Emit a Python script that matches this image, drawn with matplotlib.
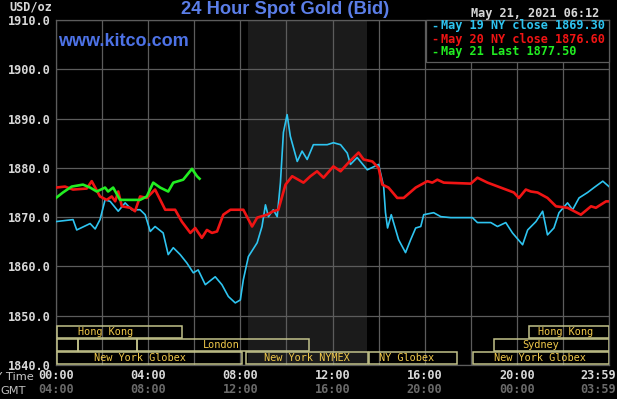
import matplotlib
matplotlib.use("Agg")
import matplotlib.pyplot as plt
from matplotlib.patches import Rectangle

# ---------------- data ----------------
may19_hours = [0.0, 0.74, 0.90, 1.48, 1.70, 1.91, 2.13, 2.35, 2.70, 3.00, 3.29, 3.65, 3.87, 4.09,
               4.30, 4.65, 4.87, 5.09, 5.39, 5.68, 5.96, 6.17, 6.48, 6.91, 7.20, 7.48, 7.78, 8.00,
               8.13, 8.35, 8.73, 8.94, 9.09, 9.22, 9.43, 9.60, 9.74, 9.87, 10.03, 10.17, 10.47,
               10.68, 10.90, 11.17, 11.77, 12.04, 12.35, 12.64, 12.78, 13.07, 13.51, 14.00, 14.22,
               14.30, 14.39, 14.55, 14.87, 15.17, 15.39, 15.61, 15.83, 15.96, 16.39, 16.70, 17.13,
               18.07, 18.29, 18.87, 19.16, 19.52, 19.81, 20.25, 20.47, 20.83, 21.12, 21.33, 21.61,
               21.83, 22.20, 22.42, 22.70, 23.07, 23.35, 23.73, 24.0]
may19_values = [1869.1, 1869.5, 1867.4, 1868.7, 1867.6, 1869.5, 1873.5, 1873.2, 1871.2, 1872.9,
                1871.5, 1871.5, 1870.5, 1867.1, 1868.1, 1866.8, 1862.4, 1863.8, 1862.4, 1860.7,
                1858.7, 1859.3, 1856.3, 1857.9, 1856.3, 1853.9, 1852.6, 1853.2, 1857.3, 1862.0,
                1864.8, 1868.1, 1872.5, 1870.1, 1871.5, 1870.1, 1877.0, 1887.2, 1890.8, 1886.4,
                1881.3, 1883.4, 1881.7, 1884.7, 1884.7, 1885.1, 1884.7, 1883.0, 1880.7, 1882.1,
                1879.6, 1880.7, 1876.2, 1870.9, 1867.8, 1870.5, 1865.4, 1862.8, 1865.4, 1867.8,
                1868.1, 1870.5, 1870.9, 1870.1, 1869.9, 1869.9, 1868.9, 1868.9, 1868.1, 1868.9,
                1866.8, 1864.4, 1867.4, 1869.1, 1871.2, 1866.4, 1867.8, 1870.9, 1872.9, 1871.5,
                1873.9, 1875.0, 1876.0, 1877.3, 1876.2]

may20_hours = [0.0, 0.39, 0.74, 1.33, 1.55, 1.91, 2.20, 2.42, 2.57, 2.70, 2.86, 3.22, 3.43, 3.65,
               3.94, 4.30, 4.74, 5.17, 5.46, 5.83, 6.04, 6.33, 6.55, 6.77, 6.99, 7.26, 7.57, 8.13,
               8.51, 8.73, 9.16, 9.43, 9.65, 9.96, 10.25, 10.74, 11.04, 11.33, 11.61, 12.04, 12.35,
               12.70, 13.13, 13.35, 13.73, 14.00, 14.16, 14.43, 14.81, 15.09, 15.61, 16.12, 16.33,
               16.55, 16.83, 18.00, 18.29, 18.73, 19.30, 19.87, 20.09, 20.39, 20.61, 20.90, 21.33,
               21.70, 22.20, 22.78, 23.22, 23.43, 23.87, 24.0]
may20_values = [1876.0, 1876.2, 1875.6, 1875.8, 1877.3, 1874.2, 1873.5, 1874.2, 1873.2, 1875.2,
                1872.2, 1871.9, 1871.2, 1874.2, 1873.9, 1875.6, 1871.5, 1871.5, 1869.1, 1866.8,
                1867.8, 1865.8, 1867.4, 1866.8, 1867.1, 1870.5, 1871.5, 1871.5, 1868.1, 1869.9,
                1870.5, 1871.2, 1871.5, 1876.6, 1878.3, 1877.0, 1878.3, 1879.3, 1878.0, 1880.3,
                1879.3, 1881.1, 1883.1, 1881.7, 1881.3, 1880.0, 1876.6, 1876.0, 1873.9, 1873.9,
                1876.0, 1877.3, 1877.0, 1877.6, 1877.0, 1876.8, 1878.0, 1877.0, 1876.0, 1875.0,
                1873.9, 1875.6, 1875.2, 1875.0, 1873.9, 1872.2, 1871.9, 1870.5, 1872.2, 1871.9,
                1873.2, 1873.2]

may21_hours = [0.0, 0.30, 0.68, 1.17, 1.48, 1.77, 2.13, 2.26, 2.48, 2.78, 3.22, 3.65, 3.94, 4.22,
               4.52, 4.87, 5.09, 5.52, 5.90, 6.12, 6.23]
may21_values = [1873.9, 1875.0, 1876.2, 1876.6, 1876.0, 1875.2, 1876.0, 1875.2, 1876.0, 1873.5,
                1873.5, 1873.5, 1874.2, 1877.0, 1876.0, 1875.2, 1877.0, 1877.6, 1879.8, 1878.3,
                1877.8]

legend_labels = ["May 19 NY close 1869.30", "May 20 NY close 1876.60", "May 21 Last 1877.50"]
y_ticks = [1840, 1850, 1860, 1870, 1880, 1890, 1900, 1910]
x_tick_hours = [0, 4, 8, 12, 16, 20, 24]
ny_time_labels = ["00:00", "04:00", "08:00", "12:00", "16:00", "20:00", "23:59"]
gmt_labels = ["04:00", "08:00", "12:00", "16:00", "20:00", "00:00", "03:59"]
comex_span = (8.33, 13.5)

# sessions: (row, start, end, label, label_x)
sessions = [
    (0, 0.04, 5.48, "Hong Kong", 2.13),
    (0, 20.52, 24.0, "Hong Kong", 22.1),
    (1, 0.04, 0.96, "", 0),
    (1, 0.96, 3.52, "", 0),
    (1, 3.52, 10.96, "London", 7.17),
    (1, 19.0, 24.0, "Sydney", 21.04),
    (2, 0.04, 8.09, "New York Globex", 3.65),
    (2, 8.26, 13.52, "New York NYMEX", 10.9),
    (2, 13.57, 17.39, "NY Globex", 15.2),
    (2, 18.09, 24.0, "New York Globex", 21.0),
]
row_bounds = {0: (1845.5, 1848.0), 1: (1842.85, 1845.35), 2: (1840.2, 1842.7)}

# ---------------- style ----------------
W, H = 617, 399
BG = "#000000"
GRID = "#5c5c5c"
BLUE = "#2ec4f0"
RED = "#f01414"
GREEN = "#22ee22"
TICK = "#d8d8d8"
DIM = "#6a6a6a"
BOX = "#c2c28a"
SESS_TXT = "#f0c84a"
MONO = "DejaVu Sans Mono"

def fx(px):
    return px / W

def fy(py):
    return 1 - py / H

fig = plt.figure(figsize=(W / 100, H / 100), dpi=100, facecolor=BG)
L, R, T, B = 56, 609, 20, 365
ax = fig.add_axes([fx(L), fy(B), (R - L) / W, (B - T) / H])
ax.set_facecolor(BG)
ax.set_xlim(0, 24)
ax.set_ylim(1840, 1910)

ax.axvspan(*comex_span, color="#1b1b1b", zorder=0, lw=0)
for h in range(0, 25, 2):
    ax.axvline(h, color=GRID, lw=0.9, zorder=1)
for v in y_ticks:
    ax.axhline(v, color=GRID, lw=0.9, zorder=1)
for s in ax.spines.values():
    s.set_color(GRID)
    s.set_linewidth(0.9)
ax.set_xticks([])
ax.set_yticks(y_ticks)
ax.set_yticklabels([f"{v:.1f}" for v in y_ticks], fontfamily=MONO, fontweight="bold",
                   fontsize=8.6, color=TICK)
ax.tick_params(axis="y", length=0, pad=4)

ax.plot(may19_hours, may19_values, color=BLUE, lw=1.2, zorder=3)
ax.plot(may20_hours, may20_values, color=RED, lw=1.9, zorder=4)
ax.plot(may21_hours, may21_values, color=GREEN, lw=1.9, zorder=5)

for row, s, e, lab, lx in sessions:
    y0, y1 = row_bounds[row]
    ax.add_patch(Rectangle((s, y0), e - s, y1 - y0, fill=False, edgecolor=BOX, lw=1.1, zorder=6))
    if lab:
        ax.text(lx, (y0 + y1) / 2, lab, color=SESS_TXT, fontsize=7.4, fontfamily=MONO,
                ha="center", va="center", zorder=7)

# x tick labels (two rows)
xt = ax.get_xaxis_transform()
for h, a, b in zip(x_tick_hours, ny_time_labels, gmt_labels):
    xpos = h if h < 24 else 23.52
    ax.text(xpos, -0.03, a, transform=xt, ha="center", va="center", color=TICK,
            fontfamily=MONO, fontweight="bold", fontsize=8.6, clip_on=False)
    ax.text(xpos, -0.072, b, transform=xt, ha="center", va="center", color=DIM,
            fontfamily=MONO, fontweight="bold", fontsize=8.6, clip_on=False)

fig.text(fx(34), fy(377), "NY Time", ha="right", va="center", color="#c8c8c8",
         fontsize=8.2, fontfamily="DejaVu Sans")
fig.text(fx(0.5), fy(391), "GMT", ha="left", va="center", color="#c0c0c0",
         fontsize=8.2, fontfamily="DejaVu Sans")

# header texts
fig.text(fx(52), fy(7), "USD/oz", ha="right", va="center", color=TICK, fontfamily=MONO,
         fontweight="bold", fontsize=8.6)
fig.text(fx(285), fy(9), "24 Hour Spot Gold (Bid)", ha="center", va="center",
         color="#5b7ee8", fontfamily="Liberation Sans", fontweight="bold", fontsize=13.2)
fig.text(fx(58), fy(42), "www.kitco.com", ha="left", va="center", color="#4d72e6",
         fontfamily="Liberation Sans", fontweight="bold", fontsize=13)
fig.text(fx(599), fy(14), "May 21, 2021 06:12", ha="right", va="center", color=TICK,
         fontfamily=MONO, fontweight="bold", fontsize=8.6)

# legend box
fig.add_artist(Rectangle((fx(426), fy(62)), (R - 426) / W, (62 - T) / H,
                         transform=fig.transFigure, facecolor=BG, edgecolor=GRID, lw=0.9,
                         zorder=10))
for i, (lab, col) in enumerate(zip(legend_labels, [BLUE, RED, GREEN])):
    y = fy(26 + 13 * i)
    fig.text(fx(431), y, "-", ha="left", va="center", color=col, fontfamily=MONO,
             fontweight="bold", fontsize=8.6, zorder=11)
    fig.text(fx(441), y, lab, ha="left", va="center", color=col, fontfamily=MONO,
             fontweight="bold", fontsize=8.6, zorder=11)

fig.savefig("out.png", dpi=100, facecolor=BG)
